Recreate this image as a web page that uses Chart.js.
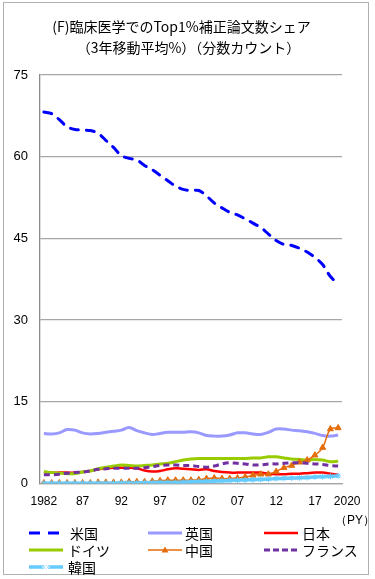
<!DOCTYPE html>
<html><head><meta charset="utf-8">
<script src="https://cdn.jsdelivr.net/npm/chart.js@4/dist/chart.umd.min.js"></script>
<style>
html,body{margin:0;padding:0;background:#fff;}
#wrap{position:relative;width:375px;height:579px;overflow:hidden;font-family:"Noto Sans CJK JP","Noto Sans",sans-serif;}
#frame{position:absolute;left:3px;top:2px;width:366px;height:573px;border:1px solid #b0b0b0;box-sizing:border-box;}
#c{position:absolute;left:0;top:0;}
.title{position:absolute;left:0;width:375px;text-align:center;font-size:14px;color:#000;line-height:16px;}
.lg{position:absolute;font-size:14px;line-height:16px;color:#000;}
.py{position:absolute;font-family:"Liberation Sans",Arial,sans-serif;font-size:12px;color:#000;}
svg{position:absolute;}
</style></head>
<body><div id="wrap">
<div id="frame"></div>
<canvas id="c" width="375" height="579"></canvas>
<div class="title" style="top:18px;left:-6px">(F)臨床医学でのTop1%補正論文数シェア</div>
<div class="title" style="top:39px;left:1px">（3年移動平均%）（分数カウント）</div>
<div class="py" style="left:335px;top:512px">（PY）</div>
<div id="legend"></div>
</div>
<script>
const years = [];
for (let y = 1982; y <= 2020; y++) years.push(y);
const xTickYears = [1982, 1987, 1992, 1997, 2002, 2007, 2012, 2017, 2020];
const xTickText = ['1982', '87', '92', '97', '02', '07', '12', '17', '2020'];
const seriesNames = ['米国', '英国', '日本', 'ドイツ', '中国', 'フランス', '韓国'];

const usa = [68.2,67.9,66.8,65.5,65.0,64.9,64.8,64.3,63.0,61.7,60.2,59.7,59.4,58.4,57.6,56.6,55.6,54.6,54.0,53.8,53.8,52.8,51.5,50.6,49.8,49.3,48.6,47.8,47.0,45.8,44.6,43.9,43.7,43.2,42.5,41.5,40.2,38.0,36.7];
const uk = [9.2,9.1,9.3,9.9,9.8,9.3,9.1,9.2,9.4,9.6,9.8,10.3,9.7,9.3,9.0,9.2,9.4,9.4,9.4,9.5,9.3,8.8,8.7,8.7,8.9,9.3,9.3,9.1,9.0,9.4,10.0,10.0,9.8,9.7,9.5,9.2,8.8,8.7,8.9];
const japan = [2.1,2.0,2.0,2.0,2.0,2.1,2.3,2.6,2.8,2.9,2.9,2.9,2.8,2.4,2.2,2.3,2.6,2.8,2.7,2.6,2.5,2.6,2.3,2.1,2.0,2.0,2.0,2.0,2.0,1.8,1.7,1.7,1.8,1.8,1.9,2.0,2.0,1.8,1.6];
const germany = [2.2,2.0,1.9,1.8,1.8,2.1,2.3,2.7,3.0,3.2,3.4,3.3,3.2,3.3,3.4,3.6,3.7,4.0,4.3,4.5,4.6,4.6,4.6,4.6,4.6,4.6,4.6,4.7,4.7,4.9,4.9,4.7,4.5,4.4,4.3,4.4,4.3,4.0,4.1];
const china = [0.1,0.1,0.1,0.1,0.1,0.1,0.1,0.2,0.2,0.2,0.2,0.3,0.3,0.3,0.4,0.5,0.6,0.6,0.6,0.6,0.7,0.9,1.0,0.9,0.9,1.0,1.2,1.5,1.7,1.7,2.2,2.9,3.3,3.9,4.3,5.2,6.6,10.0,10.2];
const france = [1.6,1.6,1.7,1.9,2.0,2.1,2.3,2.6,2.7,2.8,2.8,2.8,2.8,2.9,3.1,3.3,3.4,3.4,3.3,3.3,3.1,3.0,3.2,3.6,3.8,3.7,3.6,3.4,3.4,3.6,3.6,3.7,3.8,3.8,3.7,3.6,3.5,3.3,3.2];
const korea = [0.05,0.05,0.05,0.05,0.05,0.05,0.05,0.05,0.05,0.05,0.1,0.1,0.1,0.15,0.15,0.2,0.2,0.2,0.25,0.3,0.35,0.4,0.45,0.5,0.55,0.6,0.65,0.7,0.75,0.8,0.9,0.95,1.0,1.05,1.1,1.2,1.25,1.3,1.4];

const styles = [
  {color:'#0000FF', width:3, dash:[8,8], cap:'round'},
  {color:'#9999FF', width:3},
  {color:'#FF0000', width:2.5},
  {color:'#99CC00', width:3},
  {color:'#E46C0A', width:1.5, point:'triangle', r:3.5},
  {color:'#7030A0', width:3, dash:[6,4]},
  {color:'#66CCFF', width:3.5, point:'star', r:3}
];
const values = [usa, uk, japan, germany, china, france, korea];

const datasets = values.map((v, i) => {
  const s = styles[i];
  return {
    label: seriesNames[i],
    data: v,
    borderColor: s.color,
    backgroundColor: s.color,
    borderWidth: s.width,
    borderDash: s.dash || [],
    borderCapStyle: s.cap || 'butt',
    tension: 0.35,
    pointRadius: s.point ? s.r : 0,
    pointStyle: s.point || 'circle',
    pointBorderColor: s.color,
    pointBackgroundColor: s.color,
    pointBorderWidth: 1,
    order: values.length - i
  };
});

new Chart(document.getElementById('c'), {
  type: 'line',
  data: { labels: years, datasets },
  options: {
    responsive: false,
    devicePixelRatio: 1,
    animation: false,
    layout: { padding: { left: 0, right: 33, top: 75, bottom: 70.5 } },
    plugins: { legend: { display: false }, tooltip: { enabled: false }, title: { display: false } },
    scales: {
      x: {
        offset: true,
        grid: { display: false, drawTicks: false },
        border: { display: true, color: '#A6A6A6', width: 1.3 },
        ticks: {
          autoSkip: false, maxRotation: 0, minRotation: 0, padding: 11,
          color: '#000', font: { family: 'Liberation Sans', size: 12 },
          callback: function(val, idx) {
            const k = xTickYears.indexOf(years[idx]);
            if (k < 0) return '';
            return idx === years.length - 1 ? '\u2002\u2002\u2002' + xTickText[k] : xTickText[k];
          }
        },
        afterFit: s => { s.height = 25; }
      },
      y: {
        min: 0, max: 75,
        grid: { color: '#A6A6A6', lineWidth: 1.3, drawTicks: false },
        border: { display: true, color: '#8C8C8C', width: 1.3 },
        ticks: { stepSize: 15, padding: 12, color: '#000', font: { family: 'Liberation Sans', size: 13 } },
        afterFit: s => { s.width = 40; }
      }
    }
  }
});

// legend (HTML)
const legendPos = [
  {x:28, y:533, tx:70}, {x:147, y:533, tx:185}, {x:263, y:533, tx:302},
  {x:28, y:550, tx:68}, {x:147, y:550, tx:185}, {x:263, y:550, tx:302},
  {x:28, y:567, tx:68}
];
const lg = document.getElementById('legend');
let html = '';
seriesNames.forEach((name, i) => {
  const p = legendPos[i], s = styles[i];
  const w = 36;
  let inner = '';
  const dash = s.dash ? `stroke-dasharray="${i===0?'11,8':'6,3'}"` : '';
  inner += `<line x1="1" y1="5" x2="${w-1}" y2="5" stroke="${s.color}" stroke-width="${s.width}" ${dash}/>`;
  if (s.point === 'triangle') inner += `<polygon points="${w/2},1.5 ${w/2+3.5},7.5 ${w/2-3.5},7.5" fill="${s.color}"/>`;
  if (s.point === 'star') inner += `<path d="M${w/2-3},2 L${w/2+3},8 M${w/2+3},2 L${w/2-3},8 M${w/2},1 L${w/2},9 M${w/2-4},5 L${w/2+4},5" stroke="#fff" stroke-width="1"/>`;
  html += `<svg style="left:${p.x}px;top:${p.y-5}px" width="${w}" height="10">${inner}</svg>`;
  html += `<div class="lg" style="left:${p.tx}px;top:${p.y-8}px">${name}</div>`;
});
lg.innerHTML = html;
</script>
</body></html>
